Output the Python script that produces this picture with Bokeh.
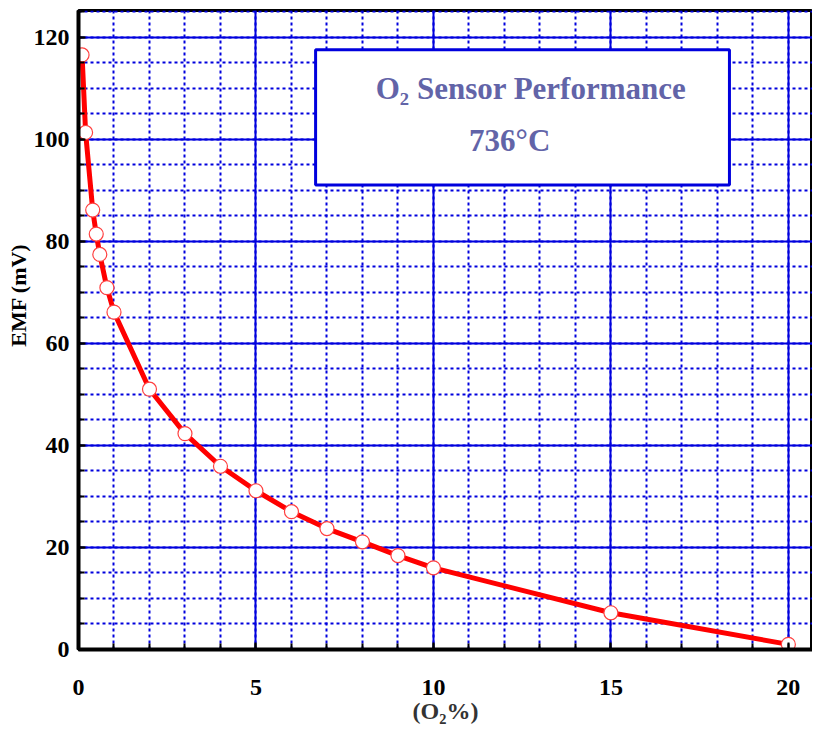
from bokeh.plotting import figure
from bokeh.models import FixedTicker, Range1d, Label, BoxAnnotation, Title
from bokeh.embed import file_html
from bokeh.resources import INLINE

o2_percent = [0.1, 0.2, 0.4, 0.5, 0.6, 0.8, 1, 2, 3, 4, 5, 6, 7, 8, 9, 10, 15, 20]
emf_mv = [116.5, 101.3, 86.1, 81.4, 77.4, 70.9, 66.1, 51.0, 42.3, 35.9, 31.1, 27.0, 23.7, 21.1, 18.4, 16.0, 7.2, 1.0]

x_major = [0, 5, 10, 15, 20]
x_minor = [i for i in range(0, 21)]
y_major = [0, 20, 40, 60, 80, 100, 120]
y_minor = [i * 5 for i in range(0, 26)]

title_line1 = "O₂ Sensor Performance"
title_line2 = "736°C"
x_label = "(O₂%)"
y_label = "EMF (mV)"

BLUE = "#0000dd"
TEXT_BLUE = "#6264a8"
SERIF = "Liberation Serif"

p = figure(width=812, height=726, output_backend="svg", toolbar_location=None,
           x_range=Range1d(0, 20.68), y_range=Range1d(0, 125.2),
           min_border_left=78, min_border_right=0, min_border_top=10, min_border_bottom=68)
p.outline_line_color = "black"
p.outline_line_width = 3
p.background_fill_color = "white"

p.xaxis.ticker = FixedTicker(ticks=x_major, minor_ticks=x_minor)
p.yaxis.ticker = FixedTicker(ticks=y_major, minor_ticks=y_minor)

for ax in (p.xaxis, p.yaxis):
    ax.axis_line_width = 4
    ax.axis_line_color = "black"
    ax.major_tick_in = 7
    ax.major_tick_out = 0
    ax.minor_tick_in = 6
    ax.minor_tick_out = 0
    ax.major_tick_line_width = 2
    ax.minor_tick_line_width = 2
    ax.major_tick_line_color = "black"
    ax.minor_tick_line_color = "black"
    ax.major_label_text_font = SERIF
    ax.major_label_text_font_style = "bold"
    ax.major_label_text_font_size = "24px"
    ax.major_label_text_color = "black"
p.xaxis.major_label_standoff = 30
p.yaxis.major_label_standoff = 9
p.yaxis.axis_label_standoff = 0

p.xaxis.axis_label = x_label
p.xaxis.axis_label_text_font = SERIF
p.xaxis.axis_label_text_font_style = "bold"
p.xaxis.axis_label_text_font_size = "24px"
p.xaxis.axis_label_text_color = "#333333"
p.xaxis.axis_label_standoff = 0

p.add_layout(Title(text=y_label, align="right", offset=233, standoff=0,
                   text_font=SERIF, text_font_style="bold", text_font_size="22px",
                   text_color="black"), "left")

for g in (p.xgrid, p.ygrid):
    g.grid_line_color = BLUE
    g.grid_line_width = 2
    g.minor_grid_line_color = BLUE
    g.minor_grid_line_width = 2
    g.minor_grid_line_dash = "3 3"

p.line(o2_percent, emf_mv, line_color="#ff0000", line_width=5)
p.scatter(o2_percent, emf_mv, size=14, fill_color="white", line_color="#ff4040", line_width=1.2)

box = BoxAnnotation(left=6.68, right=18.34, bottom=91.0, top=117.5,
                    fill_color="white", fill_alpha=1.0, line_color=BLUE, line_width=3, line_alpha=1.0)
p.add_layout(box)

p.add_layout(Label(x=12.75, y=109.9, text=title_line1, text_align="center", text_baseline="middle",
                   text_font=SERIF, text_font_style="bold", text_font_size="31px", text_color=TEXT_BLUE))
p.add_layout(Label(x=12.15, y=99.8, text=title_line2, text_align="center", text_baseline="middle",
                   text_font=SERIF, text_font_style="bold", text_font_size="31px", text_color=TEXT_BLUE))

open("out.html", "w").write(file_html(p, INLINE))
